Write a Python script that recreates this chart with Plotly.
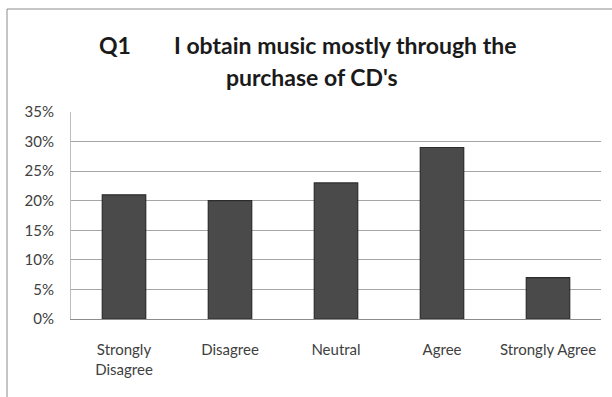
import plotly.graph_objects as go

# Survey responses for Q1
categories = ["Strongly<br>Disagree", "Disagree", "Neutral", "Agree", "Strongly Agree"]
shares = [0.21, 0.20, 0.23, 0.29, 0.07]
tick_values = [0, 0.05, 0.10, 0.15, 0.20, 0.25, 0.30, 0.35]
tick_labels = ["0%", "5%", "10%", "15%", "20%", "25%", "30%", "35%"]

FONT = "Lato, 'Open Sans', sans-serif"

fig = go.Figure(
    go.Bar(
        x=categories,
        y=shares,
        width=0.41,
        marker=dict(color="#4a4a4a", line=dict(color="#2c2c2c", width=1.2)),
        hoverinfo="x+y",
    )
)

fig.update_layout(
    width=612,
    height=397,
    margin=dict(l=71, r=11, t=112, b=78),
    paper_bgcolor="white",
    plot_bgcolor="white",
    showlegend=False,
    font=dict(family=FONT, size=15, color="#404040"),
)

fig.update_yaxes(
    range=[0, 0.35],
    tickvals=tick_values,
    ticktext=tick_labels,
    showgrid=True,
    gridcolor="#a6a6a6",
    gridwidth=1,
    showline=True,
    linecolor="#bdbdbd",
    linewidth=1,
    zeroline=False,
    ticks="",
    ticklabelstandoff=13,
    tickfont=dict(size=15, color="#404040"),
)

fig.update_xaxes(
    showline=True,
    linecolor="#8c8c8c",
    linewidth=1,
    ticks="",
    ticklabelstandoff=17,
    tickfont=dict(size=15, color="#404040"),
)

# Chart title, split over two lines
title_font = dict(family=FONT, size=23, color="#1a1a1a")
fig.add_annotation(
    text="<b>Q1</b>", xref="paper", yref="paper",
    x=(97 - 71) / 530, y=(319 - 45) / 207,
    xanchor="left", yanchor="middle", showarrow=False, font=title_font,
)
fig.add_annotation(
    text="<b>I obtain music mostly through the</b>", xref="paper", yref="paper",
    x=(172 - 71) / 530, y=(319 - 45) / 207,
    xanchor="left", yanchor="middle", showarrow=False, font=title_font,
)
fig.add_annotation(
    text="<b>purchase of CD's</b>", xref="paper", yref="paper",
    x=(312 - 71) / 530, y=(319 - 77) / 207,
    xanchor="center", yanchor="middle", showarrow=False, font=title_font,
)

# Outer chart frame
fig.add_shape(
    type="rect", xref="paper", yref="paper",
    x0=(7 - 71) / 530, x1=(616 - 71) / 530,
    y0=(319 - 401) / 207, y1=(319 - 9) / 207,
    line=dict(color="#8c8c8c", width=1), fillcolor="rgba(0,0,0,0)",
    layer="below",
)

fig.write_html("out.html")
